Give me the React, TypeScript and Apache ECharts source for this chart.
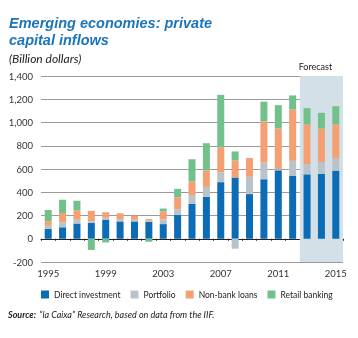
import React, { useEffect, useRef } from "react";
import * as echarts from "echarts";

const years = ["1995","1996","1997","1998","1999","2000","2001","2002","2003","2004","2005","2006","2007","2008","2009","2010","2011","2012","2013","2014","2015"];
const directInvestment = [85, 99, 131, 137, 164, 149, 149, 146, 126, 204, 302, 360, 487, 527, 384, 512, 589, 543, 554, 557, 586];
const portfolio = [26, 41, 33, 15, 17, 20, 15, 9, 40, 50, 74, 86, 86, -86, 149, 143, 10, 127, 87, 104, 107];
const nonBankLoans = [41, 82, 81, 88, 47, 50, 35, 14, 68, 102, 117, 141, 215, 146, 161, 354, 350, 441, 343, 286, 291];
const retailBanking = [96, 114, 82, -96, -32, 0, 0, -26, 26, 73, 191, 235, 450, 78, 0, 170, 200, 122, 139, 136, 156];
const yTicks = { min: -200, max: 1400, interval: 200 };
const forecastStart = 17.5;
const forecastEnd = 20.5;

const FONT = "Lato, 'Noto Sans', sans-serif";
const TITLE_FONT = "'Liberation Sans', Arial, sans-serif";
const COLORS = { blue: "#0c6cb5", grey: "#b8c4ca", orange: "#f4a072", green: "#72c18a", shade: "#d3e0e8", title: "#1b75bc" };

export default function App() {
  const ref = useRef<HTMLDivElement>(null);
  useEffect(() => {
    if (!ref.current) return;
    const chart = echarts.init(ref.current, null, { renderer: "svg" });
    const bar = (name: string, data: number[], color: string) => ({
      name,
      type: "bar",
      stack: "total",
      data,
      barWidth: 7,
      itemStyle: { color },
      xAxisIndex: 0,
      yAxisIndex: 0,
    });
    chart.setOption({
      animation: false,
      textStyle: { fontFamily: FONT },
      title: {
        text: "Emerging economies: private\ncapital inflows",
        left: 9,
        top: 14,
        padding: 0,
        textStyle: { fontFamily: TITLE_FONT, fontSize: 14.5, fontWeight: "bold", fontStyle: "italic", color: COLORS.title, lineHeight: 17 },
      },
      grid: { left: 41, right: 15, top: 76, bottom: 76 },
      xAxis: [
        {
          type: "category",
          data: years,
          position: "bottom",
          axisLine: { show: false, onZero: false },
          axisTick: { show: false },
          axisLabel: { interval: 3, fontSize: 9.5, color: "#333", margin: 6, fontFamily: FONT },
        },
        {
          type: "category",
          data: years,
          position: "bottom",
          axisLine: { show: true, onZero: true, lineStyle: { color: "#222", width: 1 } },
          axisTick: { show: true, interval: 0, length: 2, lineStyle: { color: "#222" } },
          axisLabel: { show: false },
        },
        { type: "value", min: -0.5, max: 20.5, show: false },
      ],
      yAxis: {
        type: "value",
        min: yTicks.min,
        max: yTicks.max,
        interval: yTicks.interval,
        axisLine: { show: false },
        axisTick: { show: false },
        splitLine: { lineStyle: { color: "#9a9a9a", width: 1 } },
        axisLabel: {
          fontSize: 9.5,
          color: "#333",
          margin: 8,
          fontFamily: FONT,
          formatter: (v: number) => v.toLocaleString("en-US"),
        },
      },
      legend: {
        top: 290,
        left: 41,
        padding: 0,
        width: 317,
        itemWidth: 8,
        itemHeight: 8,
        itemGap: 10,
        icon: "rect",
        textStyle: { fontSize: 8.5, color: "#222", fontFamily: FONT },
        data: ["Direct investment", "Portfolio", "Non-bank loans", "Retail banking"],
      },
      series: [
        {
          name: "forecast",
          type: "line",
          xAxisIndex: 2,
          yAxisIndex: 0,
          data: [],
          z: -1,
          silent: true,
          markArea: {
            silent: true,
            itemStyle: { color: COLORS.shade },
            label: { show: true, position: "top", distance: 5, offset: [-6, 0], color: "#222", fontSize: 9, fontFamily: FONT },
            data: [[{ name: "Forecast", coord: [forecastStart, yTicks.min] }, { coord: [forecastEnd, yTicks.max] }]],
          },
        },
        bar("Direct investment", directInvestment, COLORS.blue),
        bar("Portfolio", portfolio, COLORS.grey),
        bar("Non-bank loans", nonBankLoans, COLORS.orange),
        bar("Retail banking", retailBanking, COLORS.green),
      ],
      graphic: [
        {
          type: "text",
          left: 9,
          top: 52,
          style: { text: "(Billion dollars)", fontSize: 12, fontStyle: "italic", fill: "#222", fontFamily: FONT },
        },
        {
          type: "text",
          left: 8,
          top: 308,
          style: {
            text: "{b|Source:} {n|\u201Cla Caixa\u201D Research, based on data from the IIF.}",
            rich: {
              b: { fontSize: 9, fontWeight: "bold", fontStyle: "italic", fill: "#222", fontFamily: FONT },
              n: { fontSize: 9, fontStyle: "italic", fill: "#222", fontFamily: FONT },
            },
          },
        },
      ],
    });
    return () => chart.dispose();
  }, []);
  return <div ref={ref} style={{ position: "fixed", left: 0, top: 0, width: 358, height: 338 }} />;
}
